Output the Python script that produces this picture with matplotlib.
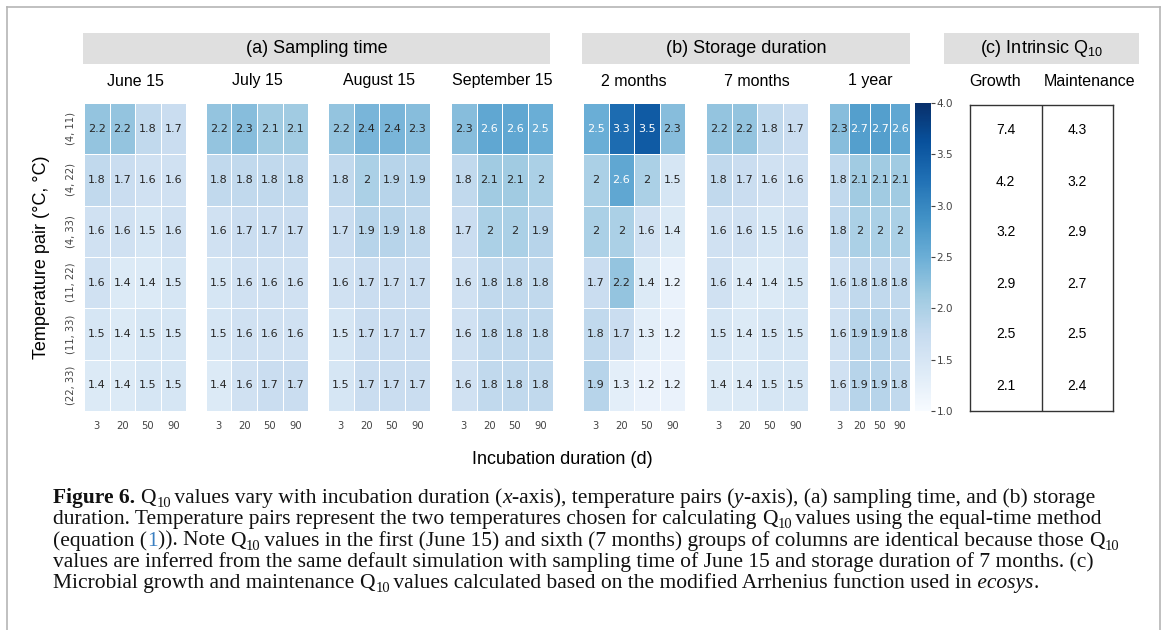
import numpy as np
import matplotlib
matplotlib.use('Agg')
import matplotlib.pyplot as plt
import seaborn as sns
from matplotlib.patches import Rectangle
from matplotlib.lines import Line2D

plt.rcParams['font.family'] = ['Liberation Sans', 'DejaVu Sans']

# ---- data ----
temp_pairs = ['(4, 11)', '(4, 22)', '(4, 33)', '(11, 22)', '(11, 33)', '(22, 33)']
durations = [3, 20, 50, 90]

june15 = [[2.2, 2.2, 1.8, 1.7], [1.8, 1.7, 1.6, 1.6], [1.6, 1.6, 1.5, 1.6],
          [1.6, 1.4, 1.4, 1.5], [1.5, 1.4, 1.5, 1.5], [1.4, 1.4, 1.5, 1.5]]
july15 = [[2.2, 2.3, 2.1, 2.1], [1.8, 1.8, 1.8, 1.8], [1.6, 1.7, 1.7, 1.7],
          [1.5, 1.6, 1.6, 1.6], [1.5, 1.6, 1.6, 1.6], [1.4, 1.6, 1.7, 1.7]]
aug15 = [[2.2, 2.4, 2.4, 2.3], [1.8, 2.0, 1.9, 1.9], [1.7, 1.9, 1.9, 1.8],
         [1.6, 1.7, 1.7, 1.7], [1.5, 1.7, 1.7, 1.7], [1.5, 1.7, 1.7, 1.7]]
sep15 = [[2.3, 2.6, 2.6, 2.5], [1.8, 2.1, 2.1, 2.0], [1.7, 2.0, 2.0, 1.9],
         [1.6, 1.8, 1.8, 1.8], [1.6, 1.8, 1.8, 1.8], [1.6, 1.8, 1.8, 1.8]]
months2 = [[2.5, 3.3, 3.5, 2.3], [2.0, 2.6, 2.0, 1.5], [2.0, 2.0, 1.6, 1.4],
           [1.7, 2.2, 1.4, 1.2], [1.8, 1.7, 1.3, 1.2], [1.9, 1.3, 1.2, 1.2]]
months7 = june15  # same default simulation
year1 = [[2.3, 2.7, 2.7, 2.6], [1.8, 2.1, 2.1, 2.1], [1.8, 2.0, 2.0, 2.0],
         [1.6, 1.8, 1.8, 1.8], [1.6, 1.9, 1.9, 1.8], [1.6, 1.9, 1.9, 1.8]]

growth = [7.4, 4.2, 3.2, 2.9, 2.5, 2.1]
maintenance = [4.3, 3.2, 2.9, 2.7, 2.5, 2.4]

panel_titles = ['June 15', 'July 15', 'August 15', 'September 15',
                '2 months', '7 months', '1 year']
panel_data = [june15, july15, aug15, sep15, months2, months7, year1]

# ---- figure, laid out in pixel coords ----
W, H = 1167, 630
fig = plt.figure(figsize=(W / 100, H / 100), dpi=100)


def px_axes(x0, y0, x1, y1):
    return fig.add_axes([x0 / W, 1 - y1 / H, (x1 - x0) / W, (y1 - y0) / H])


def fx(x):
    return x / W


def fy(y):
    return 1 - y / H


# outer frame
for xs, ys in [((7, 7), (7, 630)), ((7, 1160), (7, 7)), ((1160, 1160), (7, 630))]:
    fig.add_artist(Line2D([fx(v) for v in xs], [fy(v) for v in ys],
                          transform=fig.transFigure, color='#b5b5b5', lw=1.2))

# group headers
for x0, x1, label in [(83, 550, '(a) Sampling time'),
                      (582, 910, '(b) Storage duration'),
                      (944, 1139, r'(c) Intrinsic Q$_{\mathregular{10}}$')]:
    fig.add_artist(Rectangle((fx(x0), fy(64)), (x1 - x0) / W, 31 / H,
                             transform=fig.transFigure, color='#dfdfdf', lw=0))
    fig.text(fx((x0 + x1) / 2), fy(48.5), label, ha='center', va='center', fontsize=13)

top, bottom = 103, 411
lefts = [84, 206, 328, 451, 583, 706, 829]
rights = [186, 308, 430, 553, 685, 808, 910]
cax = px_axes(915, top, 931, bottom)

for i, (title, data) in enumerate(zip(panel_titles, panel_data)):
    ax = px_axes(lefts[i], top, rights[i], bottom)
    sns.heatmap(np.array(data), ax=ax, cmap='Blues', vmin=1, vmax=4,
                annot=True, fmt='g', annot_kws={'fontsize': 8, 'family': 'DejaVu Sans'},
                linewidths=0.6, linecolor='white',
                xticklabels=durations, yticklabels=temp_pairs if i == 0 else False,
                cbar=(i == 6), cbar_ax=cax if i == 6 else None)
    ax.tick_params(length=0, labelsize=7.2, labelcolor='#444444', pad=7)
    for t in ax.get_xticklabels():
        t.set_rotation(0)
        t.set_family('DejaVu Sans')
    if i == 0:
        for t in ax.get_yticklabels():
            t.set_rotation(90)
            t.set_va('center')
            t.set_family('DejaVu Sans')
        ax.tick_params(axis='y', pad=6)
    fig.text(fx((lefts[i] + rights[i]) / 2 if i < 6 else 870), fy(81), title,
             ha='center', va='center', fontsize=11.5)

cax.tick_params(length=3, width=0.8, color='#444444', labelsize=7.5, labelcolor='#444444', pad=1)
cax.set_yticks(np.arange(1.0, 4.01, 0.5))
cax.set_yticklabels([f'{v:.1f}' for v in np.arange(1.0, 4.01, 0.5)], family='DejaVu Sans')
for s in cax.spines.values():
    s.set_visible(False)

# (c) intrinsic Q10 table
tax = px_axes(970, 105, 1113, 411)
tax.set_xlim(0, 2)
tax.set_ylim(len(growth), 0)
tax.axvline(1, color='#333333', lw=1)
for r in range(len(growth)):
    tax.text(0.5, r + 0.5, f'{growth[r]:.1f}', ha='center', va='center', fontsize=10)
    tax.text(1.5, r + 0.5, f'{maintenance[r]:.1f}', ha='center', va='center', fontsize=10)
tax.set_xticks([])
tax.set_yticks([])
for s in tax.spines.values():
    s.set_color('#333333')
    s.set_linewidth(1)
fig.text(fx(995), fy(81), 'Growth', ha='center', va='center', fontsize=11.5)
fig.text(fx(1090), fy(81), 'Maintenance', ha='center', va='center', fontsize=11.5)

# axis labels
fig.text(fx(42), fy(257), 'Temperature pair (°C, °C)', rotation=90,
         ha='center', va='center', fontsize=13)
fig.text(fx(562), fy(460), 'Incubation duration (d)', ha='center', va='center', fontsize=13)

# ---- caption ----
# "Q10" inside plain segments is drawn as Q plus a lowered, smaller "10"
IT = {'style': 'italic'}
caption_lines = [
    [('Figure 6.', {'weight': 'bold'}),
     (' Q10 values vary with incubation duration (', {}), ('x', IT),
     ('-axis), temperature pairs (', {}), ('y', IT),
     ('-axis), (a) sampling time, and (b) storage', {})],
    [('duration. Temperature pairs represent the two temperatures chosen for calculating'
      ' Q10 values using the equal-time method', {})],
    [('(equation (', {}), ('1', {'color': '#3a7fc1'}),
     (')). Note Q10 values in the first (June 15) and sixth (7 months) groups of columns'
      ' are identical because those Q10', {})],
    [('values are inferred from the same default simulation with sampling time of June 15'
      ' and storage duration of 7 months. (c)', {})],
    [('Microbial growth and maintenance Q10 values calculated based on the modified'
      ' Arrhenius function used in', {}), (' ecosys', IT), ('.', {})],
]

CAP_FS = 15.5
renderer = fig.canvas.get_renderer()


def put(x, y, s, fs, kw):
    style = {'color': '#111111'}
    style.update(kw)
    t = fig.text(fx(x), fy(y), s, ha='left', va='baseline', fontsize=fs,
                 family='Liberation Serif', **style)
    return x + t.get_window_extent(renderer).width


for k, parts in enumerate(caption_lines):
    x = 53
    y = 503 + 21.3 * k
    for s, kw in parts:
        pieces = s.split('Q10')
        for j, piece in enumerate(pieces):
            if piece:
                x = put(x, y, piece, CAP_FS, kw)
            if j < len(pieces) - 1:
                x = put(x, y, 'Q', CAP_FS, kw)
                x = put(x + 0.5, y + 4, '10', CAP_FS * 0.68, kw) - 2

fig.savefig('out.png', dpi=100)
